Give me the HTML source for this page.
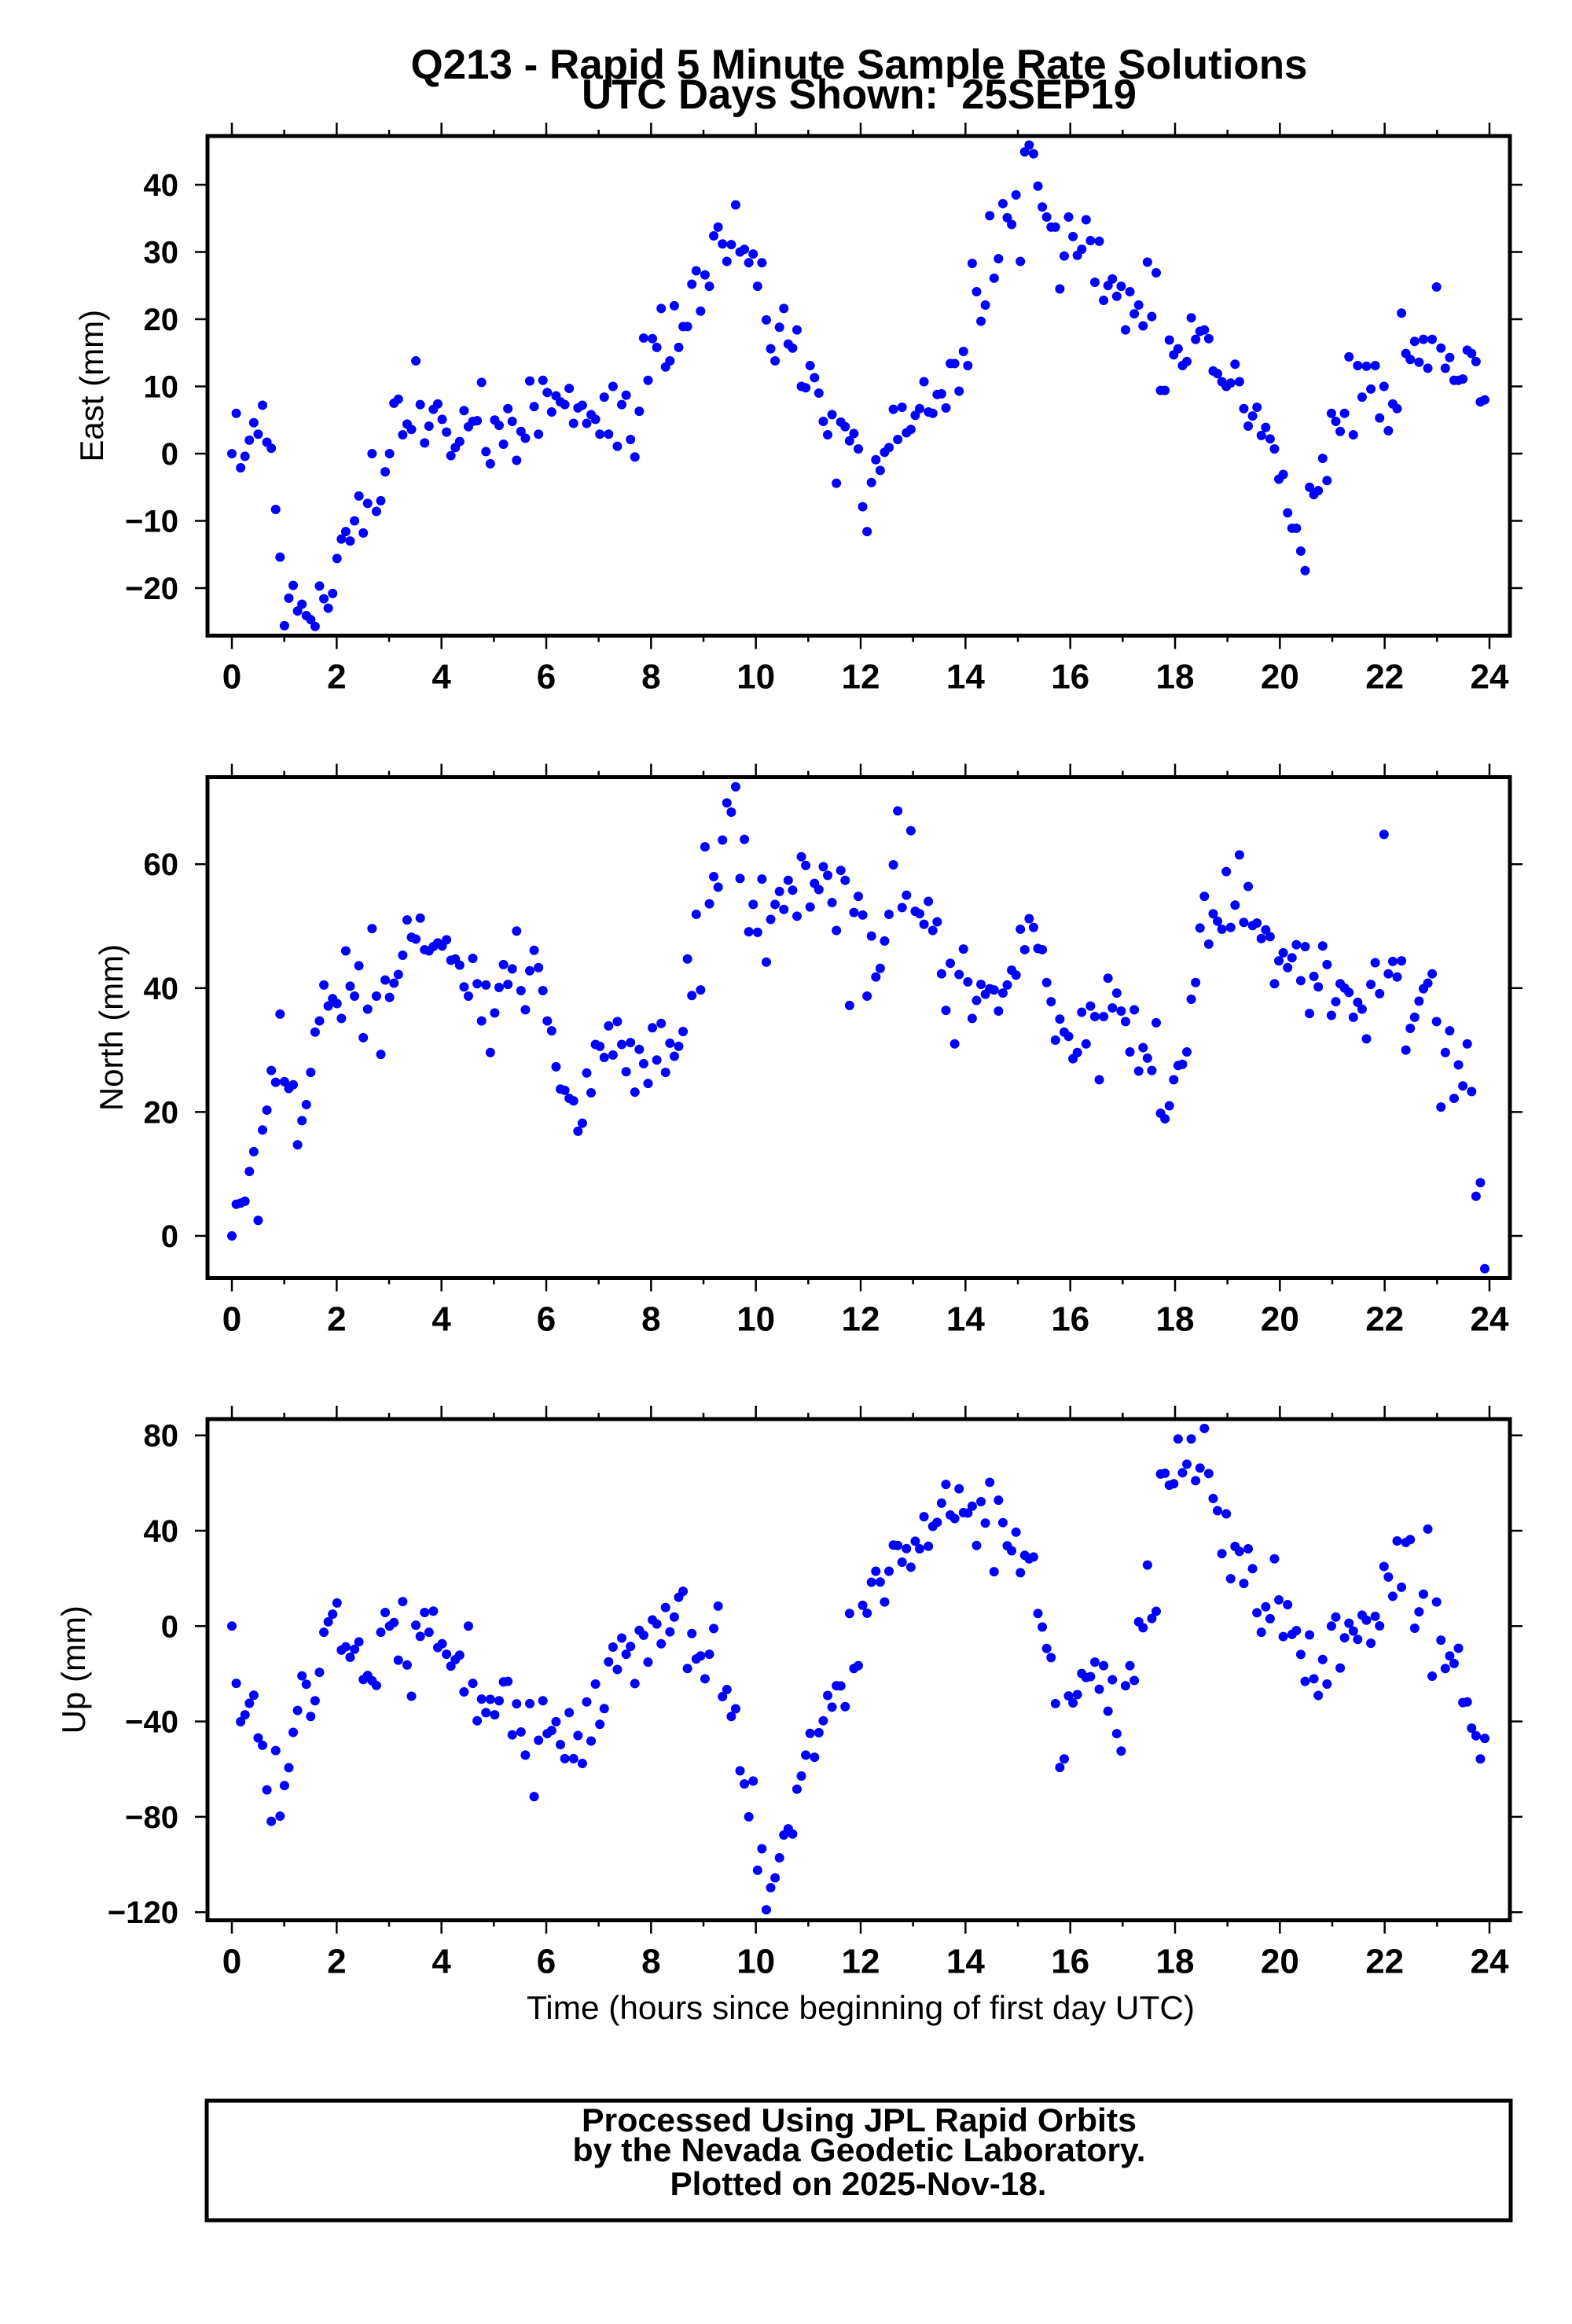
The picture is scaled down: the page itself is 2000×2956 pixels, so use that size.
<!DOCTYPE html>
<html><head><meta charset="utf-8"><title>Q213 Rapid 5 Minute Solutions</title>
<style>html,body{margin:0;padding:0;background:#fff}svg{display:block}</style></head>
<body>
<svg id="chart" xmlns="http://www.w3.org/2000/svg" width="2000" height="2956" viewBox="0 0 2000 2956" font-family="'Liberation Sans', Arial, sans-serif">
<rect x="0" y="0" width="2000" height="2956" fill="#fff"/>
<g font-weight="bold" font-size="53" text-anchor="middle">
<text x="1093" y="100" textLength="1141" lengthAdjust="spacingAndGlyphs">Q213 - Rapid 5 Minute Sample Rate Solutions</text>
<text x="1093" y="138" textLength="706" lengthAdjust="spacingAndGlyphs" xml:space="preserve">UTC Days Shown:  25SEP19</text>
</g>
<text x="1095" y="2568" font-size="42" text-anchor="middle" textLength="850" lengthAdjust="spacingAndGlyphs">Time (hours since beginning of first day UTC)</text>
<g>
<rect x="263" y="2672" width="1659" height="152" fill="none" stroke="#000" stroke-width="5"/>
<g font-weight="bold" font-size="42" text-anchor="middle">
<text x="1093" y="2711" textLength="706" lengthAdjust="spacingAndGlyphs">Processed Using JPL Rapid Orbits</text>
<text x="1093" y="2749" textLength="729" lengthAdjust="spacingAndGlyphs">by the Nevada Geodetic Laboratory.</text>
<text x="1092" y="2792" textLength="479" lengthAdjust="spacingAndGlyphs">Plotted on 2025-Nov-18.</text>
</g>
</g>
</svg>
<script>
const xTicks = [0,2,4,6,8,10,12,14,16,18,20,22,24];
const eastTicks = [-20,-10,0,10,20,30,40];
const northTicks = [0,20,40,60];
const upTicks = [-120,-80,-40,0,40,80];
const tickLabelsEast = ["−20","−10","0","10","20","30","40"];
const tickLabelsNorth = ["0","20","40","60"];
const tickLabelsUp = ["−120","−80","−40","0","40","80"];
const lastHour = 23.91;
const east = [0,6,-2.1,-0.4,2,4.6,2.9,7.2,1.7,0.8,-8.3,-15.4,-25.6,-21.5,-19.6,-23.4,-22.4,-24.1,-24.7,-25.7,-19.7,-21.6,-23,-20.8,-15.6,-12.7,-11.6,-13,-10,-6.3,-11.8,-7.4,0,-8.6,-7,-2.7,0,7.5,8.1,2.8,4.4,3.6,13.8,7.3,1.6,4.1,6.6,7.4,5.1,3.2,-0.3,0.9,1.8,6.4,4,4.8,4.9,10.6,0.3,-1.5,5,4.2,1.4,6.7,4.8,-1,3.3,2.3,10.8,7,2.9,10.9,9.1,6.2,8.6,7.7,7.3,9.7,4.5,6.8,7.2,4.5,5.8,5.1,2.9,8.4,2.9,10,1.1,7.3,8.7,2.1,-0.5,6.3,17.2,10.9,17.1,15.8,21.6,12.9,13.8,22,15.8,18.9,18.9,25.2,27.2,21.2,26.6,24.9,32.4,33.7,31.2,28.6,31.1,37,30,30.4,28.4,29.7,24.9,28.4,19.9,15.6,13.8,18.8,21.6,
16.3,15.7,18.4,10,9.8,13.1,11.3,9,4.8,2.8,5.8,-4.4,4.7,4,1.9,3,0.7,-7.9,-11.6,-4.3,-0.9,-2.5,0.2,0.9,6.6,2.1,6.9,3.1,3.6,5.7,6.7,10.7,6.2,6,8.8,8.9,6.8,13.4,13.4,9.3,15.2,13.1,28.3,24.1,19.7,22.1,35.4,26.1,29,37.2,35.1,34.1,38.5,28.6,44.9,45.9,44.6,39.8,36.7,35.2,33.7,33.7,24.5,29.4,35.2,32.3,29.5,30.4,34.8,31.7,25.5,31.6,22.8,25,26,23.4,24.9,18.4,24.1,20.8,22.1,19,28.5,20.4,26.9,9.4,9.4,16.9,14.7,15.6,13.1,13.7,20.2,17,18.2,18.4,17.1,12.3,11.9,10.7,10,10.5,13.3,10.7,6.7,4.1,5.6,6.9,2.7,3.9,2.2,0.7,-3.8,-3.1,-8.8,-11.1,-11.1,-14.5,-17.4,-5,-6.1,-5.5,-0.7,-4,6,4.8,3.3,6,14.4,2.8,13.1,8.4,13,9.6,13.1,5.3,10,3.4,7.4,6.7,20.9,14.9,14,16.7,13.6,17,12.7,17,24.8,15.7,12.7,14.3,10.9,10.9,11.1,15.4,14.9,13.7,7.7,8];
const north = [0,5.1,5.3,5.6,10.4,13.6,2.5,17.1,20.3,26.7,24.8,35.8,24.9,23.8,24.4,14.7,18.6,21.2,26.4,32.9,34.7,40.5,37.1,38.3,37.5,35.1,46,40.3,38.7,43.6,32,36.6,49.6,38.7,29.3,41.3,38.5,40.8,42.2,45.3,51,48.2,47.9,51.3,46.2,46,46.7,47.3,46.8,47.8,44.5,44.7,43.7,40.2,38.7,44.8,40.7,34.7,40.5,29.6,36,40.1,43.8,40.6,43.1,49.2,39.6,36.5,42.8,46.1,43.3,39.6,34.7,33.1,27.3,23.7,23.5,22.2,21.8,16.9,18.2,26.3,23.1,30.9,30.6,28.8,33.9,29.2,34.6,30.9,26.5,31.2,23.2,30.1,27.8,24.6,33.6,28.4,34.3,26.4,31.1,29,30.6,33,44.7,38.8,51.9,39.7,62.8,53.6,58,56.3,63.9,69.9,68.4,72.5,57.7,64,49.1,53.5,49,57.6,44.2,51.1,53.5,55.6,52.7,
57.4,55.8,51.6,61.2,59.8,53.1,56.9,55.9,59.6,58.2,53.8,49.3,59,57.4,37.2,52.2,54.8,51.8,38.7,48.4,41.8,43.2,47.6,51.9,59.9,68.6,53,55,65.4,52.4,52,50.3,54,49.3,50.7,42.3,36.4,44,31,42.2,46.3,41,35.1,38,40.6,39,39.9,39.7,36.3,39.2,40.5,42.9,42.1,49.5,46.2,51.2,49.8,46.4,46.2,40.9,37.8,31.6,35,32.9,32.2,28.6,29.6,36.1,31,37.1,35.4,25.2,35.4,41.6,36.8,39.2,36.3,34.6,29.7,36.5,26.6,30.4,28.7,26.7,34.4,19.8,18.9,21,25.2,27.5,27.7,29.7,38.2,40.9,49.7,54.8,47.1,52,50.8,49.5,58.8,49.8,53.4,61.5,50.6,56.4,50.1,50.5,48,49.4,48.3,40.7,44.4,45.7,43.3,44.9,47,41.2,46.7,35.9,41.9,40.2,46.8,43.8,35.6,37.8,40.7,40,39.3,35.3,37.7,36.6,31.8,40.6,44.1,39.1,64.8,42.3,44.3,41.8,44.4,30,33.5,35.3,37.9,39.9,40.8,42.3,34.6,20.8,29.6,33.1,22.2,27.6,24.2,31,23.3,6.4,8.6,-5.3];
const up = [0,-24,-40.1,-37.2,-32.4,-29,-46.9,-50,-68.7,-81.9,-52.2,-79.7,-66.9,-59.4,-44.6,-35.4,-20.9,-24.4,-37.9,-31.3,-19.4,-2.6,1.8,5,9.7,-10.1,-8.7,-13.1,-9.7,-6.6,-22.4,-20.7,-22.9,-24.9,-2.6,5.7,0,1.5,-14.3,10.3,-16.3,-29.4,0.4,-4.3,5.7,-2.6,6.3,-9,-7.4,-11.8,-16.8,-14.1,-12.2,-27.6,0,-24,-39.7,-30.6,-36.3,-30.7,-37.2,-31.3,-23.4,-23.2,-45.6,-32.6,-44.4,-54.1,-32.5,-71.5,-47.9,-31.3,-45.1,-43.8,-40.1,-49.7,-55.6,-36.3,-55.6,-45.9,-57.6,-31.8,-48.2,-24.3,-41.2,-34.6,-15,-8.8,-18.2,-5,-11.8,-8.5,-24.1,-1.8,-3.8,-15.1,2.6,0.9,-7.4,7.8,-2.4,3.8,12.1,14.6,-17.8,-3.1,-13.8,-12.5,-22.1,-11.8,-1,8.4,-29.6,-26.6,-37.9,-34.7,-60.7,-66.2,-80,-65,-102.4,-93.4,-119,-109.7,-105.6,-97.2,-87.6,
-85,-87.2,-68.4,-62.9,-54.1,-45,-55,-44.7,-39.7,-29.1,-34,-25,-25.1,-33.8,5.3,-17.8,-16.6,8.7,5.4,18.4,23,18.5,10.1,23,34,33.8,26.8,32.5,24.7,35.6,32.4,45.9,33.5,41.8,43.5,51.6,59.4,46.6,45.1,57.6,47.6,47.4,50.3,33.8,52.2,43.2,60.3,22.8,52.8,43.4,33.7,31.6,39.4,22.4,29.7,28.2,29,5.3,-0.4,-9.4,-13.2,-32.5,-59.3,-55.7,-29.3,-32.2,-28.7,-19.9,-21.6,-21.2,-15.1,-26.5,-16.6,-35.7,-22.5,-45.1,-52.4,-25,-16.6,-22.8,1.8,-0.7,25.6,3.2,6.2,63.8,64.1,59.1,59.7,78.5,64.3,67.9,78.5,61,66.3,82.9,64,53.5,48.4,30.4,47.1,19.9,33.4,31.3,17.9,32.4,24.1,5.6,-2.6,8.1,3.1,28.2,11,-4.4,9,-3.5,-1.9,-11.9,-23.2,-3.7,-22.1,-29.1,-14,-24.3,0,3.8,-17.6,-4.9,1.2,-2.1,-5.6,4.6,2.5,-7.2,4.1,0.1,25,20.6,12.5,35.7,16.3,35.1,36.3,-0.9,6,13.4,40.7,-21,10.1,-5.9,-17.8,-12.5,-15.7,-9.3,-32.1,-31.8,-42.8,-46,-55.7,-47.1];

const NS = 'http://www.w3.org/2000/svg';
const svg = document.getElementById('chart');
const X0 = 264, X1 = 1921;
function xScale(h){ return 295 + h * (1895 - 295) / 24; }
function mk(tag, attrs, parent){
  const e = document.createElementNS(NS, tag);
  for (const k in attrs) e.setAttribute(k, attrs[k]);
  (parent || svg).appendChild(e);
  return e;
}
function makeYScale(v0, y0, v1, y1){ return v => y0 + (v - v0) * (y1 - y0) / (v1 - v0); }

function drawPanel(key, title, top, bottom, yScale, ticks, labels, values, ylabelX){
  const g = mk('g', {});
  
  
  // ticks x
  for (let h = 0; h <= 24; h++){
    const x = xScale(h);
    const len = (h % 2 === 0) ? 17 : 8;
    const t1 = mk('line', {x1:x, x2:x, y1:top, y2:top-len, stroke:'#000', 'stroke-width':2.5}, g);
    
    
    const t2 = mk('line', {x1:x, x2:x, y1:bottom, y2:bottom+len, stroke:'#000', 'stroke-width':2.5}, g);
    
    
  }
  xTicks.forEach(h => {
    const t = mk('text', {x:xScale(h), y:bottom+67, 'font-size':44, 'font-weight':'bold', 'text-anchor':'middle'}, g);
    t.textContent = String(h);
    
    
  });
  ticks.forEach((v, i) => {
    const y = yScale(v);
    const a = mk('line', {x1:X0, x2:X0-16, y1:y, y2:y, stroke:'#000', 'stroke-width':2.5}, g);
    
    
    const b = mk('line', {x1:X1, x2:X1+16, y1:y, y2:y, stroke:'#000', 'stroke-width':2.5}, g);
    
    
    const t = mk('text', {x:227, y:y+14, 'font-size':40, 'font-weight':'bold', 'text-anchor':'end'}, g);
    t.textContent = labels[i];
    
    
  });
  const cy = (top + bottom) / 2;
  const yl = mk('text', {x:ylabelX, y:cy, 'font-size':42, 'text-anchor':'middle', transform:'rotate(-90 ' + ylabelX + ' ' + cy + ')'}, g);
  yl.textContent = title;
  
  
  const pts = mk('g', {fill:'#0000ff'}, g);
  
  
  const n = values.length;
  values.forEach((v, i) => {
    const h = i * lastHour / (n - 1);
    const c = mk('circle', {cx:xScale(h), cy:yScale(v), r:6}, pts);
    
    
  });
  const fr = mk('rect', {x:X0, y:top, width:X1-X0, height:bottom-top, fill:'none', stroke:'#000', 'stroke-width':5}, g);
  
  
}

drawPanel('east', 'East (mm)', 173, 808.5, makeYScale(0, 577, 40, 235), eastTicks, tickLabelsEast, east, 131);
drawPanel('north', 'North (mm)', 988.5, 1625.5, makeYScale(0, 1572, 60, 1099.2), northTicks, tickLabelsNorth, north, 156);
drawPanel('up', 'Up (mm)', 1805, 2442.5, makeYScale(0, 2068.3, 80, 1825.7), upTicks, tickLabelsUp, up, 108);
</script>
</body></html>
